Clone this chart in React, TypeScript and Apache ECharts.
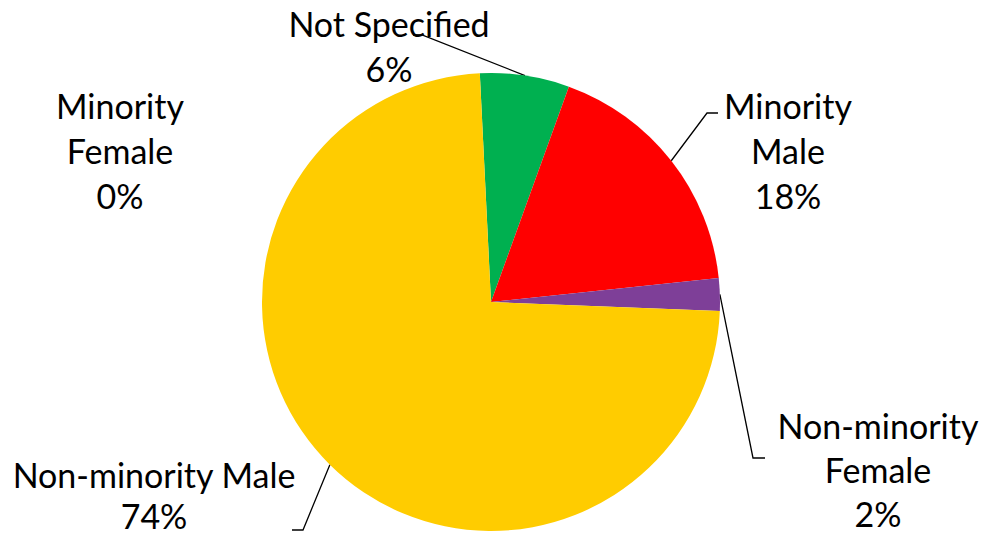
import React, { useEffect, useRef } from "react";
import * as echarts from "echarts";

const categories = [
  "Not Specified",
  "Minority Male",
  "Non-minority Female",
  "Non-minority Male",
  "Minority Female",
];
const labelTexts = [
  "Not Specified",
  "Minority\nMale",
  "Non-minority\nFemale",
  "Non-minority Male",
  "Minority\nFemale",
];
const values = [6.3, 17.8, 2.3, 73.6, 0];
const colors = ["#00B050", "#FF0000", "#7E3F98", "#FFCC00", "#4472C4"];

// label placement (styling only)
const labelPos = [
  { x: 389, y: 46, lh: 45, elbow: [422, 35], end: [413, 35] },
  { x: 788, y: 150, lh: 45, elbow: [707, 113], end: [718, 113] },
  { x: 878, y: 469, lh: 44, elbow: [753, 458], end: [765, 458] },
  { x: 154, y: 495, lh: 41, elbow: [303, 530], end: [292, 530] },
  { x: 120, y: 150, lh: 45, elbow: null, end: null },
];

const CENTER = [491, 302];
const RADIUS = 229;
const START = 92.8;

export default function App() {
  const ref = useRef<HTMLDivElement>(null);
  useEffect(() => {
    if (!ref.current) return;
    const chart = echarts.init(ref.current, undefined, { renderer: "svg" });
    const total = values.reduce((a, b) => a + b, 0);
    const mids: number[][] = [];
    let acc = 0;
    values.forEach((v) => {
      const midDeg = START - ((acc + v / 2) / total) * 360;
      const rad = (midDeg * Math.PI) / 180;
      mids.push([CENTER[0] + RADIUS * Math.cos(rad), CENTER[1] - RADIUS * Math.sin(rad)]);
      acc += v;
    });
    chart.setOption({
      animation: false,
      backgroundColor: "#ffffff",
      series: [
        {
          type: "pie",
          center: CENTER,
          radius: RADIUS,
          startAngle: START,
          clockwise: true,
          avoidLabelOverlap: false,
          data: categories.map((c, i) => ({
            name: c,
            value: values[i],
            itemStyle: { color: colors[i] },
            label: { lineHeight: labelPos[i].lh },
            labelLine: { show: i !== 4 },
          })),
          label: {
            show: true,
            position: "outside",
            fontFamily: "Lato",
            fontSize: 34,
            lineHeight: 45,
            color: "#000000",
            align: "center",
            formatter: (p: any) => labelTexts[p.dataIndex] + "\n" + Math.round(p.percent) + "%",
          },
          labelLine: {
            show: true,
            lineStyle: { color: "#000000", width: 1.3 },
          },
          labelLayout: (params: any) => {
            const L = labelPos[params.dataIndex];
            const out: any = { x: L.x, y: L.y, align: "center", verticalAlign: "middle" };
            if (L.elbow) {
              const p0 =
                params.labelLinePoints && params.labelLinePoints[0]
                  ? params.labelLinePoints[0]
                  : mids[params.dataIndex];
              out.labelLinePoints = [p0, L.elbow, L.end];
            }
            return out;
          },
        },
      ],
    });
    return () => chart.dispose();
  }, []);
  return (
    <div
      ref={ref}
      style={{ position: "fixed", left: 0, top: 0, width: 984, height: 535 }}
    />
  );
}
